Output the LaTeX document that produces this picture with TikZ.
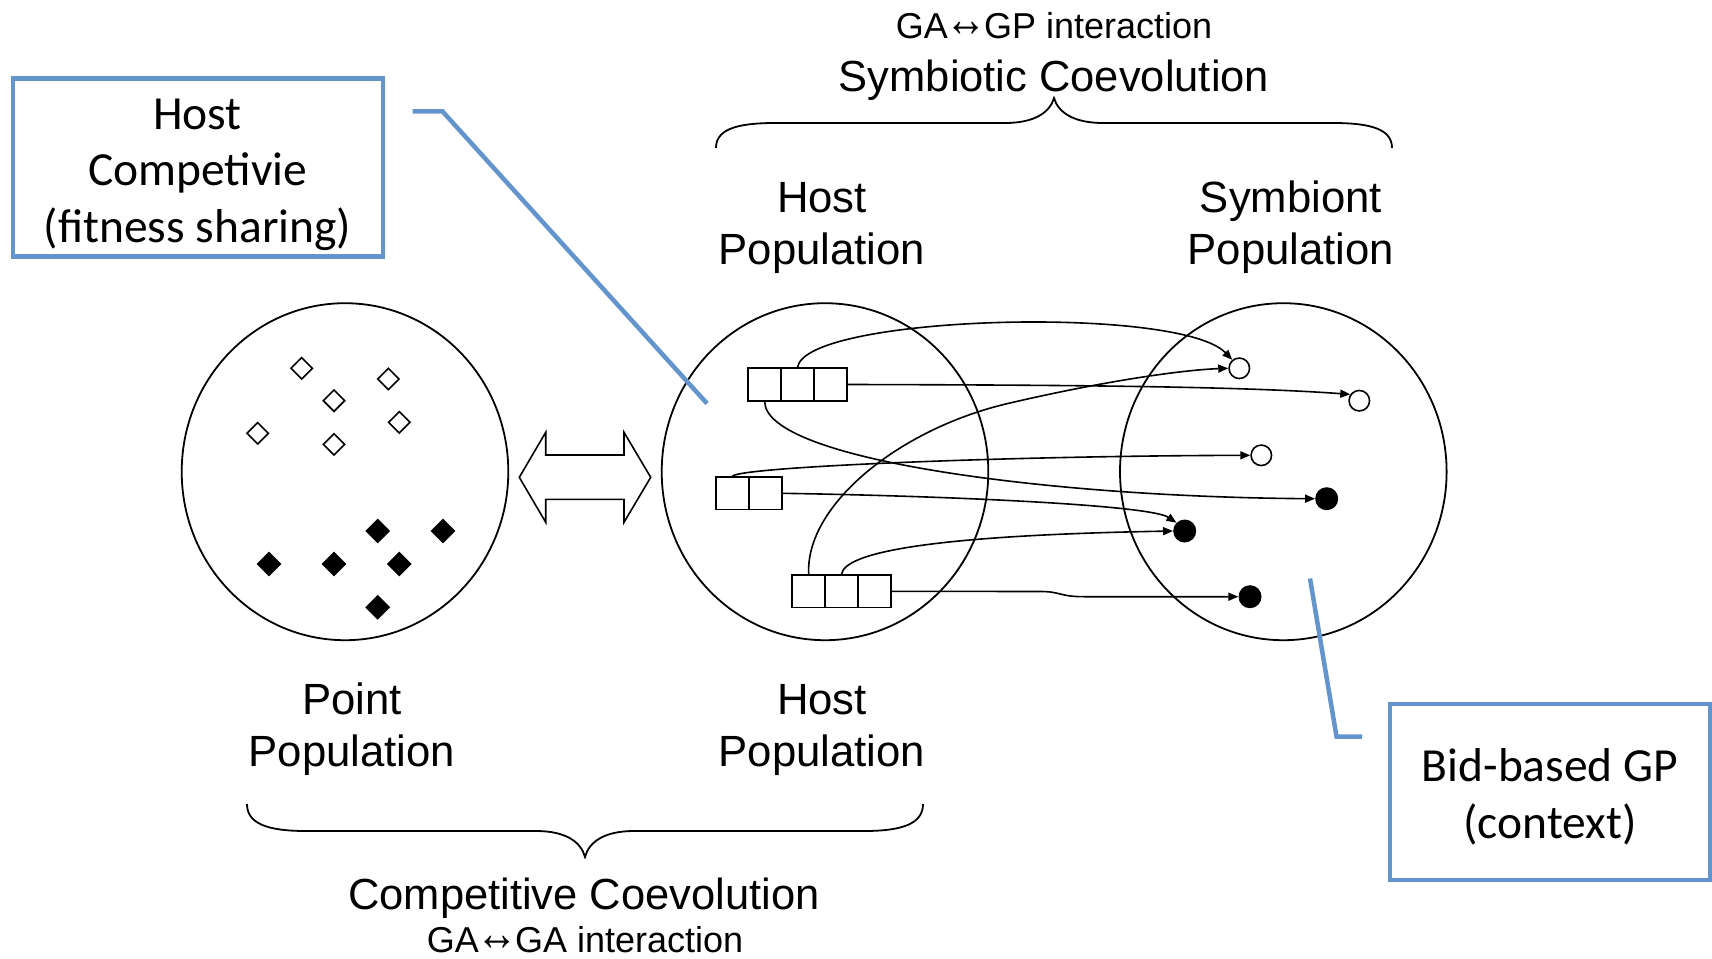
\documentclass[tikz,border=0pt]{standalone}
\usepackage{fontspec}
\newfontfamily\arialf{Liberation Sans}
\newfontfamily\calib{Carlito}
\usetikzlibrary{shapes.geometric,arrows.meta}
\definecolor{callblue}{RGB}{99,148,204}
% two-headed arrow glyph, enlarged to sit at mid capital height, set tight
\newcommand{\twoway}{\kern-0.07em\smash{\raisebox{0.03em}{\scalebox{1.15}[1.4]{↔}}}\kern-0.07em}

\begin{document}
\begin{tikzpicture}[x=1pt,y=-1pt,
  popcircle/.style={ellipse,draw,line width=1.8pt,minimum width=326.6pt,minimum height=337pt,inner sep=0pt},
  opendia/.style={diamond,draw,line width=1.6pt,minimum width=22pt,minimum height=22pt,inner sep=0pt},
  fulldia/.style={diamond,fill=black,minimum width=25pt,minimum height=25pt,inner sep=0pt},
  cell/.style={rectangle,draw,line width=1.8pt,minimum width=32.8pt,minimum height=32.4pt,inner sep=0pt},
  opendot/.style={circle,draw,line width=1.6pt,fill=white,minimum size=20.5pt,inner sep=0pt},
  fulldot/.style={circle,fill=black,minimum size=23pt,inner sep=0pt},
  link/.style={line width=1.6pt,-{Triangle[length=10pt,width=8pt]}},
  lbl/.style={font=\arialf\fontsize{43.7}{52}\selectfont,inner sep=0pt,anchor=base},
  headlbl/.style={font=\arialf\fontsize{43.5}{52}\selectfont,inner sep=0pt,anchor=base},
  smalllbl/.style={font=\arialf\fontsize{36}{42}\selectfont,inner sep=0pt,anchor=base},
  boxtext/.style={font=\calib\fontsize{47.5}{57}\selectfont,inner sep=0pt,anchor=base},
  callbox/.style={rectangle,draw=callblue,line width=4.5pt,inner sep=0pt},
  callline/.style={draw=callblue,line width=4.5pt},
  brace/.style={line width=1.8pt},
]
\useasboundingbox (0,0) rectangle (1712,958);
\fill[white] (0,0) rectangle (1712,958);

% --- the three populations
\node[popcircle] (point) at (345,471.7) {};
\node[popcircle] (host) at (825,471.7) {};
\node[popcircle] (symb) at (1283.3,471.7) {};

% --- point population: open and filled diamonds
\node[opendia] (p1) at (301.7,368.3) {};
\node[opendia] (p2) at (388.3,379) {};
\node[opendia] (p3) at (334,400.7) {};
\node[opendia] (p4) at (399.3,422.3) {};
\node[opendia] (p5) at (257.7,433.3) {};
\node[opendia] (p6) at (334,444.3) {};
\node[fulldia] (q1) at (377.7,531) {};
\node[fulldia] (q2) at (443,531) {};
\node[fulldia] (q3) at (269,564) {};
\node[fulldia] (q4) at (334,564) {};
\node[fulldia] (q5) at (399.3,564) {};
\node[fulldia] (q6) at (377.7,607.3) {};

% --- block double arrow between point and host populations
\draw[line width=1.6pt,fill=white] (519.3,477.3) -- (545.7,432.3) -- (545.7,455) -- (624,455)
  -- (624,432.3) -- (650.7,477.3) -- (624,522.3) -- (624,499.3) -- (545.7,499.3)
  -- (545.7,522.3) -- cycle;

% --- hosts: rows of program pointers
\node[cell] (a1) at (764.7,384.5) {};
\node[cell] (a2) at (797.5,384.5) {};
\node[cell] (a3) at (830.3,384.5) {};
\node[cell] (b1) at (732.4,493.3) {};
\node[cell] (b2) at (765.2,493.3) {};
\node[cell] (c1) at (808.7,591.3) {};
\node[cell] (c2) at (841.5,591.3) {};
\node[cell] (c3) at (874.3,591.3) {};

% --- symbionts
\node[opendot] (o1) at (1239.3,368.3) {};
\node[opendot] (o2) at (1359.3,400.7) {};
\node[opendot] (o3) at (1261.3,455.3) {};
\node[fulldot] (f2) at (1326.7,498.7) {};
\node[fulldot] (f1) at (1184.7,531) {};
\node[fulldot] (f3) at (1250,596.7) {};

% --- host to symbiont links
\draw[link] (a2.north) .. controls (805,315) and (1180,305) .. (o1.130);
\draw[link] (a3.east) .. controls (1100,385) and (1250,387) .. (o2.145);
\draw[link] (a1.south) .. controls (765,460) and (1050,497) .. (f2.west);
\draw[link] (b1.north) .. controls (740,467) and (1000,456) .. (o3.west);
\draw[link] (b2.east) .. controls (950,496) and (1150,505) .. (f1.135);
\draw[link] (c1.north) .. controls (805,505) and (900,428) .. (1010,403)
  .. controls (1100,382) and (1180,370) .. (o1.west);
\draw[link] (c2.north) .. controls (845,550) and (950,535) .. (f1.west);
\draw[link] (c3.east) -- (1040,591.5) .. controls (1062,591.5) and (1058,596.7) .. (1085,596.7) -- (f3.west);

% --- population labels
\node[lbl] (hostT1) at (822,212) {Host};
\node[lbl] (hostT2) at (822,264) {Population};
\node[lbl] (symT1) at (1291,212) {Symbiont};
\node[lbl] (symT2) at (1291,264) {Population};
\node[lbl] (pntB1) at (352,714) {Point};
\node[lbl] (pntB2) at (352,766) {Population};
\node[lbl] (hostB1) at (822,714) {Host};
\node[lbl] (hostB2) at (822,766) {Population};

% --- symbiotic coevolution brace and title
\draw[brace] (716,148) .. controls (716,130) and (735,123) .. (775,123) -- (1005,123)
  .. controls (1035,123) and (1050,112) .. (1054,98)
  .. controls (1058,112) and (1073,123) .. (1103,123) -- (1333,123)
  .. controls (1373,123) and (1392,130) .. (1392,148);
\node[headlbl] (symtitle) at (1054,91.5) {Symbiotic Coevolution};
\node[smalllbl] (symsub) at (1054,38) {GA\twoway GP interaction};

% --- competitive coevolution brace and title
\draw[brace] (247,804) .. controls (247,823) and (266,831) .. (306,831) -- (536,831)
  .. controls (566,831) and (581,842) .. (585,857)
  .. controls (589,842) and (604,831) .. (634,831) -- (864,831)
  .. controls (904,831) and (923,823) .. (923,804);
\node[headlbl] (comptitle) at (584,909) {Competitive Coevolution};
\node[smalllbl] (compsub) at (585,952) {GA\twoway GA interaction};

% --- callout: host competitive fitness sharing
\node[callbox,minimum width=370pt,minimum height=178.4pt] (hostbox) at (198,167.5) {};
\node[boxtext] (hb1) at (197.6,129) {Host};
\node[boxtext] (hb2) at (197.6,185.6) {Competivie};
\node[boxtext] (hb3) at (197.6,242) {(fitness sharing)};
\coordinate (hcA) at (412.7,111.4);
\coordinate (hcB) at (442.5,111.4);
\coordinate (hcC) at (707,403.5);
\draw[callline] (hcA) -- (hcB) -- (hcC);

% --- callout: bid-based GP context
\node[callbox,minimum width=320pt,minimum height=176pt] (bidbox) at (1550,792) {};
\node[boxtext] (bb1) at (1550,781) {Bid-based GP};
\node[boxtext] (bb2) at (1550,838.5) {(context)};
\coordinate (bcA) at (1362,736.5);
\coordinate (bcB) at (1336.5,736.5);
\coordinate (bcC) at (1310,578.5);
\draw[callline] (bcA) -- (bcB) -- (bcC);
\end{tikzpicture}
\end{document}
